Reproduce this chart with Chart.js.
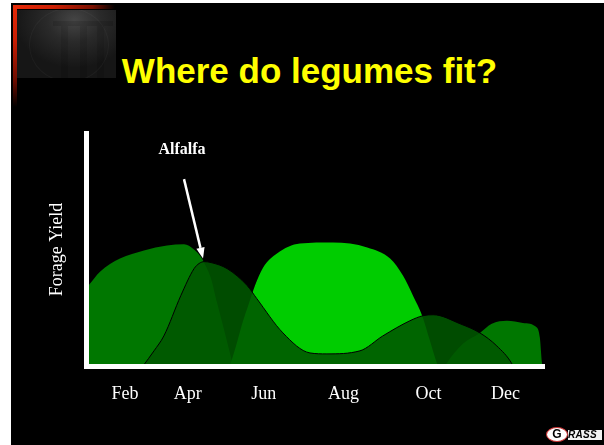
<!DOCTYPE html>
<html>
<head>
<meta charset="utf-8">
<script src="https://cdn.jsdelivr.net/npm/chart.js@4.4.1/dist/chart.umd.min.js"></script>
<style>
  html, body { margin: 0; padding: 0; background: #fff; width: 604px; height: 445px; overflow: hidden; }
  #slide { position: absolute; left: 11px; top: 3px; width: 593px; height: 442px; background: #000; }
  .bar-h { position: absolute; left: 13px; top: 5px; width: 102px; height: 4px;
    background: linear-gradient(to right, #e62a08 0%, #cc2004 40%, #7a1000 78%, rgba(0,0,0,0) 100%); }
  .bar-v { position: absolute; left: 13px; top: 5px; width: 4px; height: 102px;
    background: linear-gradient(to bottom, #e62a08 0%, #c81e04 35%, #6a0c00 75%, rgba(0,0,0,0) 100%); }
  .photo { position: absolute; left: 17px; top: 10px; width: 99px; height: 68px; overflow: hidden;
    background: radial-gradient(ellipse 60% 70% at 58% 15%, #454545 0%, #2a2a2a 45%, #161616 100%); }
  .photo .arch { position: absolute; left: 12px; top: -2px; width: 78px; height: 72px; border-radius: 50%;
    border: 1px solid rgba(255,255,255,0.035); }
  .photo .beam { position: absolute; left: 36px; top: 11px; width: 60px; height: 5px; background: rgba(0,0,0,0.12); }
  .photo .col { position: absolute; top: 16px; width: 7px; height: 52px; background: rgba(0,0,0,0.1); }
  #title { position: absolute; left: 0; top: 53px; width: 619px; text-align: center;
    font-family: 'Liberation Sans', Arial, sans-serif; font-weight: bold; font-size: 35px; line-height: 35px;
    color: #ffff00; white-space: nowrap; }
  #chart { position: absolute; left: 0; top: 0; }
  #grass { position: absolute; left: 546px; top: 427px; width: 57px; height: 16px; }
  #grass .g { position: absolute; left: 0; top: 0; width: 20px; height: 13px; border: 1.5px solid #c83030;
    border-radius: 50%; background: #fff; color: #000; font: bold 12px/13px 'Liberation Sans', Arial, sans-serif; text-align: center; }
  #grass .rass { position: absolute; left: 22px; top: 3px; width: 34px; height: 10px; background: #f2f2f2;
    color: #000; font: italic bold 10px/10px 'Liberation Sans', Arial, sans-serif; letter-spacing: 0.3px; }
</style>
</head>
<body>
<div id="slide"></div>
<div class="photo"><div class="arch"></div><div class="beam"></div>
  <div class="col" style="left:44px"></div><div class="col" style="left:63px"></div><div class="col" style="left:80px"></div></div>
<div class="bar-v"></div>
<div class="bar-h"></div>
<div id="title">Where do legumes fit?</div>
<canvas id="chart" width="604" height="445"></canvas>
<div id="grass"><div class="g">G</div><div class="rass">RASS</div></div>

<script>
// ---- Data (x: position along the season axis 0-100, y: relative forage yield 0-100) ----
const monthLabels  = ['Feb', 'Apr', 'Jun', 'Aug', 'Oct', 'Dec'];
const monthTickPos = [8.5, 22.2, 38.8, 56.2, 74.8, 91.6];

const coolSeasonX = [0.66, 3.06, 7.42, 12.66, 17.69, 21.4, 23.58, 25.33, 25.76, 27.3, 28.6, 30.1, 31.2, 31.9, 32.1,
                     78.4, 78.8, 82.3, 86.0, 88.6, 91.9, 95.4, 98.5, 99.1, 99.56, 99.67];
const coolSeasonY = [34.9, 40.5, 46.1, 49.6, 51.7, 52.2, 50.0, 46.1, 44.4, 37.5, 27.2, 15.9, 7.3, 1.7, 0,
                     0, 1.3, 9.5, 14.2, 18.1, 19.4, 18.5, 16.4, 12.1, 1.3, 0];

const warmSeasonX = [31.4, 32.75, 34.3, 35.4, 36.9, 38.65, 41.7, 46.7, 53.9, 61.4, 66.4, 69.2, 71.4, 73.4, 75.1, 76.6, 76.9];
const warmSeasonY = [0, 8.6, 19.4, 25.9, 34.5, 42.2, 48.3, 52.6, 53.0, 50.9, 46.1, 38.8, 30.2, 21.6, 10.8, 1.3, 0];

const alfalfaX = [12.45, 14.85, 17.0, 20.7, 23.6, 24.7, 25.8, 27.3, 30.8, 35.2, 37.3, 43.0, 48.9, 52.6,
                  59.8, 64.8, 70.7, 73.6, 75.8, 81.7, 86.0, 89.7, 93.0, 93.2];
const alfalfaY = [0, 6.5, 12.9, 30.2, 41.8, 44.0, 44.8, 44.4, 41.8, 34.5, 28.9, 14.2, 5.6, 5.2,
                  6.5, 12.9, 19.4, 21.6, 22.0, 18.1, 14.2, 8.6, 0.9, 0];

const yAxisTitle = 'Forage Yield';
const calloutText = 'Alfalfa';
// callout anchor points in data units
const callout = { label: { x: 20.96, y: 90.9 }, from: { x: 21.4, y: 80.2 }, to: { x: 25.55, y: 46.1 } };

function pts(xs, ys) { return xs.map((x, i) => ({ x: x, y: ys[i] })); }

const calloutPlugin = {
  id: 'callout',
  afterDatasetsDraw(chart) {
    const { ctx, scales: { x, y } } = chart;
    const lx = x.getPixelForValue(callout.label.x), ly = y.getPixelForValue(callout.label.y);
    const fx = x.getPixelForValue(callout.from.x), fy = y.getPixelForValue(callout.from.y);
    const tx = x.getPixelForValue(callout.to.x), ty = y.getPixelForValue(callout.to.y);
    ctx.save();
    ctx.fillStyle = '#fff';
    ctx.font = "bold 16px 'Liberation Serif', 'Times New Roman', serif";
    ctx.textAlign = 'center';
    ctx.textBaseline = 'alphabetic';
    ctx.fillText(calloutText, lx, ly);
    const ang = Math.atan2(ty - fy, tx - fx);
    const headLen = 11, headW = 4.2;
    const bx = tx - Math.cos(ang) * headLen, by = ty - Math.sin(ang) * headLen;
    ctx.strokeStyle = '#fff';
    ctx.lineWidth = 2.5;
    ctx.beginPath(); ctx.moveTo(fx, fy); ctx.lineTo(bx, by); ctx.stroke();
    ctx.beginPath();
    ctx.moveTo(tx, ty);
    ctx.lineTo(bx + Math.sin(ang) * headW, by - Math.cos(ang) * headW);
    ctx.lineTo(bx - Math.sin(ang) * headW, by + Math.cos(ang) * headW);
    ctx.closePath(); ctx.fill();
    ctx.restore();
  }
};

new Chart(document.getElementById('chart'), {
  type: 'line',
  data: {
    datasets: [
      { label: 'Alfalfa', data: pts(alfalfaX, alfalfaY), order: 0,
        backgroundColor: 'rgba(0,87,0,0.88)', borderColor: '#000', borderWidth: 1, fill: 'origin' },
      { label: 'Warm-season grass', data: pts(warmSeasonX, warmSeasonY), order: 1,
        backgroundColor: '#00cc00', borderWidth: 0, borderColor: 'rgba(0,0,0,0)', fill: 'origin' },
      { label: 'Cool-season grass', data: pts(coolSeasonX, coolSeasonY), order: 2,
        backgroundColor: '#007700', borderWidth: 0, borderColor: 'rgba(0,0,0,0)', fill: 'origin' }
    ]
  },
  options: {
    responsive: false,
    animation: false,
    devicePixelRatio: 1,
    parsing: true,
    elements: { point: { radius: 0, hoverRadius: 0 }, line: { cubicInterpolationMode: 'monotone' } },
    layout: { padding: { left: 42, top: 133, right: 60, bottom: 23.4 } },
    scales: {
      x: {
        type: 'linear', min: 0, max: 100, z: 1,
        border: { display: true, color: '#fff', width: 5, z: 1 },
        grid: { display: false, drawTicks: false },
        afterBuildTicks: (scale) => { scale.ticks = monthTickPos.map(v => ({ value: v })); },
        ticks: {
          color: '#fff', padding: 17, autoSkip: false, maxRotation: 0, minRotation: 0,
          font: { family: "'Liberation Serif', 'Times New Roman', serif", size: 18, lineHeight: 1.2 },
          callback: (value, index) => monthLabels[index]
        }
      },
      y: {
        type: 'linear', min: 0, max: 100, z: 1,
        border: { display: true, color: '#fff', width: 5, z: 1 },
        grid: { display: false, drawTicks: false },
        ticks: { display: false },
        title: {
          display: true, text: yAxisTitle, color: '#fff',
          font: { family: "'Liberation Serif', 'Times New Roman', serif", size: 18, lineHeight: 1.2 },
          padding: { top: 4, bottom: 18.4 }
        }
      }
    },
    plugins: { legend: { display: false }, tooltip: { enabled: false }, title: { display: false } }
  },
  plugins: [calloutPlugin]
});
</script>
</body>
</html>
